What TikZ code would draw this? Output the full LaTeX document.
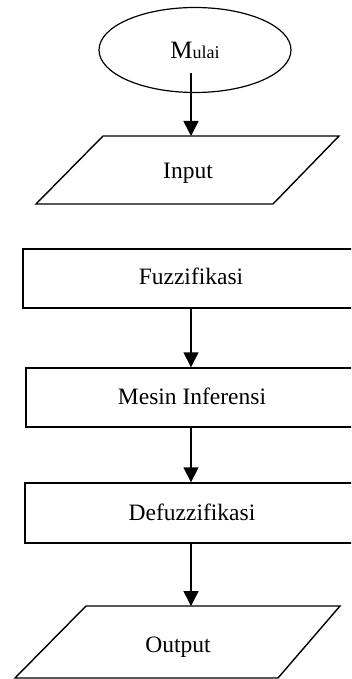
\documentclass[tikz,border=0pt]{standalone}
\usepackage{fontspec}
\setmainfont{Liberation Serif}
\usetikzlibrary{shapes.geometric,arrows.meta}

\begin{document}
\begin{tikzpicture}[x=1pt,y=-1pt,
  every node/.style={font=\fontsize{23.5}{28}\selectfont},
  procbox/.style={draw,line width=1.4pt,rectangle,minimum height=59pt,inner sep=0pt},
  ioline/.style={line width=1.4pt,line join=miter},
  startbox/.style={draw,line width=1.2pt,ellipse,inner sep=0pt},
  flow/.style={line width=1.6pt,-{Triangle[length=15pt,width=15pt]}}]
  \clip (0,0) rectangle (351,679);

  % terminal
  \node[startbox,minimum width=192pt,minimum height=85pt] (mulai) at (195,50)
    {{\fontsize{25}{28}\selectfont M}{\fontsize{18}{22}\selectfont ulai}};
  \coordinate (s) at (191,73);

  % input parallelogram
  \draw[ioline] (103,136) -- (339,136) -- (273,204) -- (36,204) -- cycle;
  \coordinate (intop) at (191,136);
  \node at (188,173) (in) {Input};

  % processing steps
  \node[procbox,minimum width=336pt] (fuz) at (191,278.5) {};
  \node at (191,276) (fuztext) {Fuzzifikasi};
  \node[procbox,minimum width=330pt] (mes) at (191,397.5) {};
  \node at (192,396) (mestext) {Mesin Inferensi};
  \node[procbox,minimum width=332pt,minimum height=60pt] (def) at (191,513) {};
  \node at (192,512) (deftext) {Defuzzifikasi};

  % output parallelogram
  \draw[ioline] (86,606) -- (340,606) -- (278,678) -- (15,678) -- cycle;
  \coordinate (outtop) at (191,606);
  \node at (178,647) (out) {Output};

  % connectors
  \draw[flow] (s) -- (intop);
  \draw[flow] (fuz.south) -- (mes.north);
  \draw[flow] (mes.south) -- (def.north);
  \draw[flow] (def.south) -- (outtop);
\end{tikzpicture}
\end{document}
